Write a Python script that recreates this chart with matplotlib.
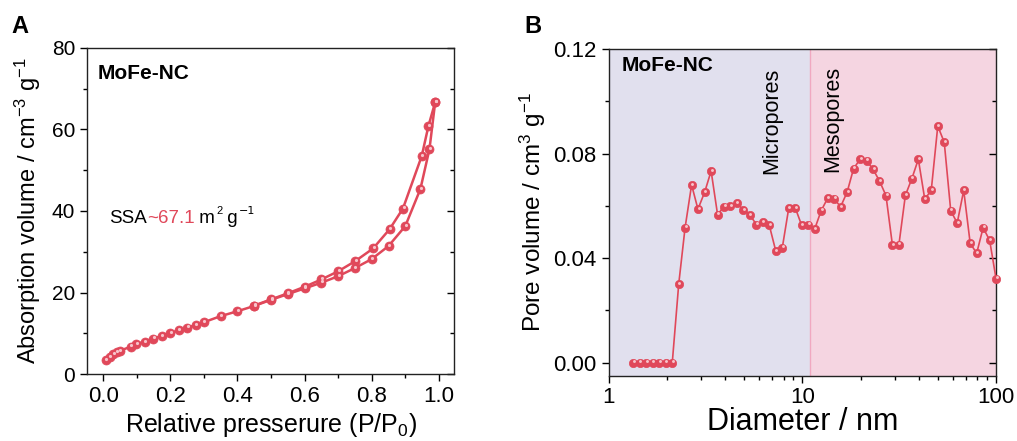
import matplotlib
matplotlib.use("Agg")
import matplotlib.pyplot as plt
from matplotlib.ticker import MultipleLocator, LogLocator, NullFormatter
from matplotlib.transforms import offset_copy

plt.rcParams['font.family'] = ['Liberation Sans', 'DejaVu Sans']
plt.rcParams['mathtext.fontset'] = 'custom'
plt.rcParams['mathtext.rm'] = 'Liberation Sans'
plt.rcParams['mathtext.it'] = 'Liberation Sans:italic'

RED = '#e0485a'
HILITE = '#f7c4cb'

# Panel A: N2 isotherm (adsorption / desorption branches)
p_ads = [0.008, 0.02, 0.03, 0.04, 0.05, 0.082, 0.099, 0.124, 0.149, 0.174, 0.2,
         0.225, 0.251, 0.276, 0.3, 0.35, 0.4, 0.45, 0.5, 0.55, 0.6, 0.65, 0.7,
         0.75, 0.8, 0.85, 0.9, 0.945, 0.972, 0.989]
v_ads = [3.4, 4.2, 4.9, 5.3, 5.7, 6.7, 7.4, 7.9, 8.7, 9.3, 10.1, 10.7, 11.4,
         12.0, 12.7, 14.2, 15.4, 16.7, 18.2, 19.6, 21.0, 22.4, 24.0, 26.0,
         28.2, 31.4, 36.3, 45.4, 55.2, 66.7]
p_des = [0.989, 0.969, 0.949, 0.893, 0.853, 0.804, 0.751, 0.70, 0.65, 0.6,
         0.55, 0.5, 0.45]
v_des = [66.7, 60.9, 53.5, 40.6, 35.5, 30.8, 27.7, 25.2, 23.2, 21.4, 19.8,
         18.3, 16.8]

# Panel B: pore size distribution
diameter = [1.34, 1.45, 1.56, 1.69, 1.82, 1.97, 2.13, 2.30, 2.48, 2.68, 2.89,
            3.13, 3.38, 3.65, 3.94, 4.25, 4.59, 4.96, 5.36, 5.79, 6.25, 6.75,
            7.29, 7.88, 8.51, 9.19, 9.92, 10.72, 11.58, 12.50, 13.51, 14.59,
            15.75, 17.02, 18.38, 19.85, 21.44, 23.16, 25.01, 27.02, 29.17,
            31.51, 34.03, 36.76, 39.70, 42.88, 46.31, 50.02, 54.02, 58.35,
            63.02, 68.08, 73.52, 79.41, 85.76, 92.65, 100.0]
pore_vol = [0, 0, 0, 0, 0, 0, 0, 0.0301, 0.0516, 0.0680, 0.0587, 0.0652,
            0.0733, 0.0566, 0.0597, 0.0598, 0.0610, 0.0584, 0.0565, 0.0528,
            0.0536, 0.0525, 0.0427, 0.0440, 0.0592, 0.0592, 0.0525, 0.0528,
            0.0511, 0.0581, 0.0629, 0.0627, 0.0596, 0.0652, 0.0742, 0.0778,
            0.0773, 0.0740, 0.0695, 0.0639, 0.0450, 0.0451, 0.0640, 0.0704,
            0.0778, 0.0624, 0.0661, 0.0905, 0.0843, 0.0581, 0.0534, 0.0659,
            0.0457, 0.0418, 0.0516, 0.0468, 0.0321]
micro_meso_edge = 11.0


def balls(ax, fig, x, y, ms, lw):
    # line + red spheres with a small highlight
    ax.plot(x, y, '-', color=RED, lw=lw, zorder=3, clip_on=False)
    ax.plot(x, y, 'o', color=RED, ms=ms, mec=RED, mew=0.5, zorder=4,
            clip_on=False)
    tr = offset_copy(ax.transData, fig=fig, x=0.4, y=0.9, units='points')
    ax.plot(x, y, 'o', color=HILITE, ms=ms * 0.35, mew=0, transform=tr,
            zorder=5, clip_on=False)


def style_axes(ax, xsize, ysize):
    for s in ax.spines.values():
        s.set_linewidth(1.0)
        s.set_color('#222222')
    ax.tick_params(which='both', direction='out', top=False, width=1.0)
    ax.tick_params(axis='x', labelsize=xsize)
    ax.tick_params(axis='y', labelsize=ysize)
    ax.tick_params(which='major', length=5)
    ax.tick_params(which='minor', length=3)
    # inward ticks on the right spine
    ax.tick_params(axis='y', which='both', right=True, labelright=False)
    for t in ax.yaxis.get_major_ticks() + ax.yaxis.get_minor_ticks():
        t.tick2line.set_marker(matplotlib.lines.TICKLEFT)


fig = plt.figure(figsize=(10.17, 4.41), dpi=100)

# ---- Panel A ----
axA = fig.add_axes([0.0855, 0.1519, 0.3609, 0.7393])
balls(axA, fig, p_ads, v_ads, 6.5, 1.8)
balls(axA, fig, p_des, v_des, 6.5, 1.8)
axA.set_xlim(-0.048, 1.045)
axA.set_ylim(0, 80)
axA.xaxis.set_major_locator(MultipleLocator(0.2))
axA.xaxis.set_minor_locator(MultipleLocator(0.1))
axA.yaxis.set_major_locator(MultipleLocator(20))
axA.yaxis.set_minor_locator(MultipleLocator(10))
axA.set_xticks([0.0, 0.2, 0.4, 0.6, 0.8, 1.0])
axA.set_xticklabels(['0.0', '0.2', '0.4', '0.6', '0.8', '1.0'])
style_axes(axA, 16, 15)
axA.set_xlabel('Relative presserure (P/P$_0$)', fontsize=18, labelpad=3)
axA.set_ylabel('Absorption volume / cm$^{-3}$ g$^{-1}$', fontsize=17,
               labelpad=6)
axA.text(0.03, 0.923, 'MoFe-NC', transform=axA.transAxes, fontsize=15,
         fontweight='bold', va='center', ha='left')

# SSA note: black / red / black pieces placed one after another
t1 = axA.text(0.018, 37.0, 'SSA', fontsize=13.5, va='baseline', ha='left')
t2 = axA.annotate('~67.1', xy=(1, 0), xycoords=t1, va='bottom', ha='left',
                  fontsize=13.5, color=RED)
t3 = axA.annotate(' m', xy=(1, 0), xycoords=t2, va='bottom', ha='left',
                  fontsize=13.5)
t4 = axA.annotate('2', xy=(1, 0), xycoords=t3, xytext=(0.5, 8),
                  textcoords='offset points', va='bottom', ha='left',
                  fontsize=8)
t5 = axA.annotate(' g', xy=(1, 0), xycoords=t3, xytext=(5, 0),
                  textcoords='offset points', va='bottom', ha='left',
                  fontsize=13.5)
axA.annotate('\u22121', xy=(1, 0), xycoords=t5, xytext=(0.5, 8),
             textcoords='offset points', va='bottom', ha='left', fontsize=8,
             family=['DejaVu Sans'])
fig.text(0.011, 0.965, 'A', fontsize=17, fontweight='bold', va='top')

# ---- Panel B ----
axB = fig.add_axes([0.5985, 0.1483, 0.3809, 0.7406])
axB.set_xscale('log')
axB.set_xlim(1, 100)
axB.set_ylim(-0.005, 0.12)
axB.axvspan(1, micro_meso_edge, color='#e1e0ee', zorder=0, lw=0)
axB.axvspan(micro_meso_edge, 100, color='#f5d5e1', zorder=0, lw=0)
axB.axvline(micro_meso_edge, color='#f0a8c0', lw=1.0, zorder=1)
balls(axB, fig, diameter, pore_vol, 6.0, 1.2)
axB.xaxis.set_major_locator(LogLocator(base=10))
axB.xaxis.set_minor_locator(LogLocator(base=10, subs=range(2, 10)))
axB.xaxis.set_minor_formatter(NullFormatter())
axB.set_xticks([1, 10, 100])
axB.set_xticklabels(['1', '10', '100'])
axB.yaxis.set_major_locator(MultipleLocator(0.04))
axB.yaxis.set_minor_locator(MultipleLocator(0.02))
axB.set_yticks([0.0, 0.04, 0.08, 0.12])
axB.set_yticklabels(['0.00', '0.04', '0.08', '0.12'])
style_axes(axB, 16, 16)
axB.set_xlabel('Diameter / nm', fontsize=22, labelpad=-1)
axB.set_ylabel('Pore volume / cm$^3$ g$^{-1}$', fontsize=17.5, labelpad=4)
axB.text(0.034, 0.949, 'MoFe-NC', transform=axB.transAxes, fontsize=15,
         fontweight='bold', va='center', ha='left')
axB.text(6.95, 0.1127, 'Micropores', rotation=90, fontsize=15.5, va='top',
         ha='center')
axB.text(14.4, 0.1136, 'Mesopores', rotation=90, fontsize=15.5, va='top',
         ha='center')
fig.text(0.516, 0.965, 'B', fontsize=17, fontweight='bold', va='top')

fig.savefig('out.png', dpi=100)
